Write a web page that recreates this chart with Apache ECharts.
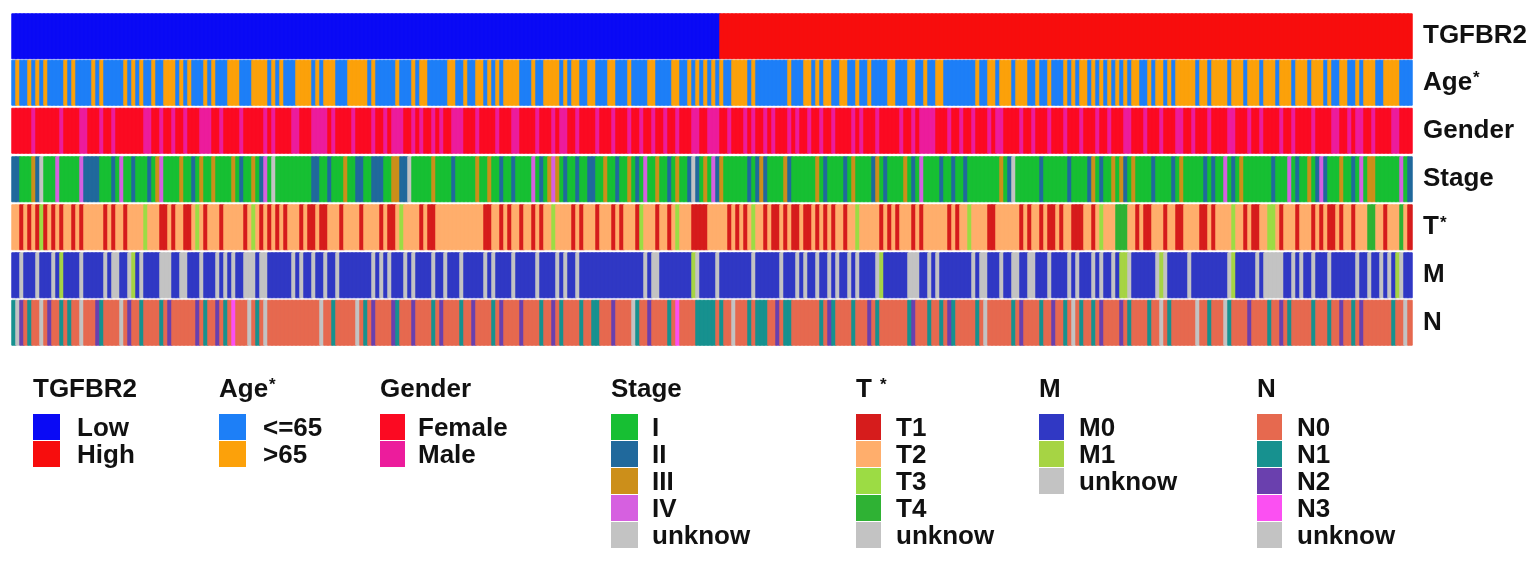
<!DOCTYPE html>
<html>
<head>
<meta charset="utf-8">
<title>TGFBR2 clinical annotation</title>
<script src="https://cdn.jsdelivr.net/npm/echarts@6/dist/echarts.min.js"></script>
<style>
html, body { margin: 0; padding: 0; background: #ffffff; }
#echart-clinicalTrack { width: 1535px; height: 570px; }
</style>
</head>
<body>
<div id="echart-clinicalTrack" class="echartheat-clinicalTrack"></div>
<script>
// ---- data: one code per sample, left to right ----
// samples are sorted by TGFBR2 group: [code, count]
var tgfbr2Runs = [[0, 177], [1, 173]];

// 0 = <=65, 1 = >65
var ageCodes = [
	'0100101010 0001010000 1010000010 1010010011 1010100010 1000111000 1111010100 0111101011 10001111',
	'1010000010 0010110000 0110010011 0101011110 0010011110 1011001100 0110001000 0110000110 010101010',
	'1001111010 0000000100 0110101100 1100100100 0011000110 0100110000 0000100110 1110111001 00100',
	'0101011010 1010101011 0010110101 1111011011 1101110111 0111011101 1101110100 1100101110 01111000'
];
// 0 = Female, 1 = Male
var genderCodes = [
	'0000010000 0010000110 0010010000 0001100100 1001000111 0010000100 0001010000 1100011110 10000100',
	'0010010111 0010100101 0011100010 0001000110 0001000101 1001000010 0010001001 0010010010 001100111',
	'0010001010 0101000101 0010010010 0001010001 0000010010 1111000100 1001000101 1000010010 00100',
	'0100010001 0010001100 0100010001 1001000100 0011000100 1000010010 0001000011 0010110010 00011000'
];
// 0 = I, 1 = II, 2 = III, 3 = IV, 4 = unknow
var stageCodes = [
	'1100021400 0300000311 1100010300 1000102300 0020010200 2000020100 2013040000 0000011001 00020011',
	'0011100221 1400000200 0010000020 0200100100 0030102320 1001001100 2001002010 3002001020 014102031',
	'2000000101 2100002100 0000201000 0102000012 0100002010 3000010010 0100000000 2014000000 10000',
	'0010000120 1002021020 0001000010 2000001010 0301020000 0001000301 0020131000 2001030220 00000301'
];
// 0 = T1, 1 = T2, 2 = T3, 3 = T4, 4 = unknow
var tCodes = [
	'1101010201 0101101011 1110101101 1112111001 0110012101 1101111101 2101010101 1101001001 11011110',
	'1111010012 1111010011 1111111111 0011010110 1101011211 1101011101 1101011102 1110110121 110000111',
	'1101010121 1010010100 1001010101 1011211111 0101011101 0111111010 1121111001 1111101011 01001',
	'0110001101 2111333110 1001110110 0111100101 1112110100 1122101110 1110101001 0110111331 10111310'
];
// 0 = M0, 1 = M1, 2 = unknow
var mCodes = [
	'0020002000 2010000200 0002022002 1020000222 0022000200 0202020022 2022000000 2020020020 02000000',
	'0020202000 2020000200 2000200000 2020000200 0002000020 2002000000 0000000000 2022000000 001200002',
	'0000000020 0000020002 0200200202 0020200002 1000000222 0020200000 0002022000 2002200220 00200',
	'0020200020 2002011200 0000212000 0020000000 0021000002 0222220020 2002000200 0000200200 20201200'
];
// 0 = N0, 1 = N1, 2 = N2, 3 = N3, 4 = unknow
var nCodes = [
	'1420100402 0010100400 0210000402 0010000102 0000002010 0201030004 0104000000 0000000400 10000040',
	'1020000210 0020000102 0000100200 0010200002 0000100201 0000100110 0020000410 0200001030 000111110',
	'1004000101 1100201100 0000010210 0001000201 0000000120 0010010210 0000104000 0001020000 10020',
	'0104010010 2000020100 0010040100 0000400100 0410000200 0010020100 0001000100 2001020000 00010040'
];

var rowNames = ['TGFBR2', 'Age*', 'Gender', 'Stage', 'T*', 'M', 'N'];
var tgfbr2Levels = ['Low', 'High'];
var ageLevels = ['<=65', '>65'];
var genderLevels = ['Female', 'Male'];
var stageLevels = ['I', 'II', 'III', 'IV', 'unknow'];
var tLevels = ['T1', 'T2', 'T3', 'T4', 'unknow'];
var mLevels = ['M0', 'M1', 'unknow'];
var nLevels = ['N0', 'N1', 'N2', 'N3', 'unknow'];

// ---- styles ----
var tgfbr2Colors = ['#0a0af5', '#f70d0d'];
var ageColors = ['#1d7ff7', '#fca10a'];
var genderColors = ['#fb0a22', '#ec1c9c'];
var stageColors = ['#17bf33', '#20699c', '#cc8f1a', '#d660e0', '#c3c3c3'];
var tColors = ['#d61c1c', '#ffae6c', '#9cdc44', '#2fb234', '#c3c3c3'];
var mColors = ['#3038c4', '#a6d444', '#c3c3c3'];
var nColors = ['#e6694f', '#17918f', '#6a40ae', '#fb50f2', '#c3c3c3'];

var fontFamily = '"Liberation Sans", Arial, sans-serif';
var gridLeft = 12;
var gridWidth = 1400;
var rowTops = [14, 60.5, 108.5, 157, 205, 253, 300.5];
var rowHeight = 44.5;

function parseCodes(parts) {
	var codes = parts.join('').replace(/\s+/g, '').split('').map(Number);
	return codes;
}

function expandRuns(runs) {
	var out = [];
	runs.forEach(function (run) {
		for (var i = 0; i < run[1]; i++) out.push(run[0]);
	});
	return out;
}

function starLabel(name) {
	if (name.charAt(name.length - 1) === '*') {
		return '{t|' + name.slice(0, -1) + '}{s|*}';
	}
	return '{t|' + name + '}';
}

function generateEchartClinicalTrack() {
	var dom = document.getElementById('echart-clinicalTrack');
	var chart = echarts.init(dom, null, { renderer: 'canvas' });

	var rowCodes = [
		expandRuns(tgfbr2Runs),
		parseCodes(ageCodes),
		parseCodes(genderCodes),
		parseCodes(stageCodes),
		parseCodes(tCodes),
		parseCodes(mCodes),
		parseCodes(nCodes)
	];
	var rowColors = [tgfbr2Colors, ageColors, genderColors, stageColors, tColors, mColors, nColors];
	var sampleCount = rowCodes[0].length;
	rowCodes.forEach(function (codes, r) {
		if (codes.length !== sampleCount) console.warn(rowNames[r] + ' has ' + codes.length + ' samples');
	});

	var samples = [];
	for (var i = 0; i < sampleCount; i++) samples.push('S' + (i + 1));

	var grid = [], xAxis = [], yAxis = [], series = [];
	rowNames.forEach(function (name, r) {
		grid.push({ left: gridLeft, top: rowTops[r], width: gridWidth, height: rowHeight });
		xAxis.push({ type: 'category', gridIndex: r, data: samples, show: false });
		yAxis.push({
			type: 'category',
			gridIndex: r,
			data: [name],
			position: 'right',
			axisLine: { show: false },
			axisTick: { show: false },
			splitLine: { show: false },
			axisLabel: {
				margin: 11,
				align: 'left',
				formatter: starLabel,
				rich: {
					t: { fontFamily: fontFamily, fontSize: 26, fontWeight: 'bold', color: '#111111' },
					s: { fontFamily: fontFamily, fontSize: 17, fontWeight: 'bold', color: '#111111', padding: [0, 0, 8, 1] }
				}
			}
		});
		var colors = rowColors[r];
		series.push({
			type: 'heatmap',
			name: name,
			xAxisIndex: r,
			yAxisIndex: r,
			animation: false,
			progressive: 0,
			emphasis: { disabled: true },
			data: rowCodes[r].map(function (code, i) {
				return {
					value: [i, 0, code],
					itemStyle: { color: colors[code], borderColor: colors[code], borderWidth: 0.9 }
				};
			})
		});
	});

	// legend blocks
	var legendGroups = [
		{ title: 'TGFBR2', levels: tgfbr2Levels, colors: tgfbr2Colors, x: 33, w: 27, dx: 44 },
		{ title: 'Age*', levels: ageLevels, colors: ageColors, x: 219, w: 27, dx: 44 },
		{ title: 'Gender', levels: genderLevels, colors: genderColors, x: 380, w: 25, dx: 38 },
		{ title: 'Stage', levels: stageLevels, colors: stageColors, x: 611, w: 27, dx: 41 },
		{ title: 'T *', levels: tLevels, colors: tColors, x: 856, w: 25, dx: 40 },
		{ title: 'M', levels: mLevels, colors: mColors, x: 1039, w: 25, dx: 40 },
		{ title: 'N', levels: nLevels, colors: nColors, x: 1257, w: 25, dx: 40 }
	];
	var titleY = 390;
	var swatchTop = 414;
	var swatchPitch = 27;
	var graphic = [];
	legendGroups.forEach(function (g) {
		graphic.push({
			type: 'text',
			style: {
				x: g.x, y: titleY,
				text: starLabel(g.title),
				verticalAlign: 'middle',
				rich: {
					t: { fontFamily: fontFamily, fontSize: 26, fontWeight: 'bold', fill: '#111111' },
					s: { fontFamily: fontFamily, fontSize: 17, fontWeight: 'bold', fill: '#111111', padding: [0, 0, 10, 1] }
				}
			}
		});
		g.levels.forEach(function (level, k) {
			var top = swatchTop + k * swatchPitch;
			graphic.push({
				type: 'rect',
				shape: { x: g.x, y: top, width: g.w, height: swatchPitch - 1 },
				style: { fill: g.colors[k] }
			});
			graphic.push({
				type: 'text',
				style: {
					x: g.x + g.dx, y: top + swatchPitch / 2 + 1,
					text: level,
					verticalAlign: 'middle',
					font: 'bold 26px ' + fontFamily,
					fill: '#111111'
				}
			});
		});
	});

	var option = {
		backgroundColor: '#ffffff',
		animation: false,
		grid: grid,
		xAxis: xAxis,
		yAxis: yAxis,
		series: series,
		graphic: graphic
	};
	chart.setOption(option);
}

generateEchartClinicalTrack();
</script>
</body>
</html>
